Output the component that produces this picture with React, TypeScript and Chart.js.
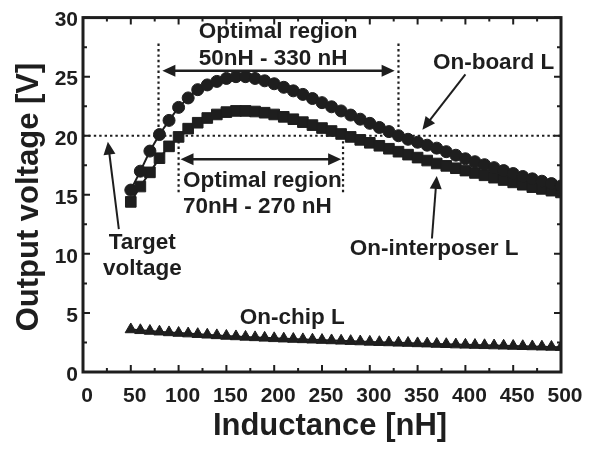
import { useEffect, useRef } from 'react';
import { Chart, registerables } from 'chart.js';

Chart.register(...registerables);

// Inductance sweep [nH]
const inductance = [
  50, 60, 70, 80, 90, 100, 110, 120, 130, 140, 150, 160, 170, 180, 190, 200,
  210, 220, 230, 240, 250, 260, 270, 280, 290, 300, 310, 320, 330, 340, 350,
  360, 370, 380, 390, 400, 410, 420, 430, 440, 450, 460, 470, 480, 490, 500,
];

// Output voltage [V] for each inductor implementation
const onBoard = [
  15.4, 17.0, 18.7, 20.1, 21.3, 22.4, 23.2, 23.9, 24.3, 24.6, 24.85, 25.0, 25.0,
  24.85, 24.65, 24.4, 24.1, 23.8, 23.5, 23.15, 22.8, 22.45, 22.1, 21.75, 21.4,
  21.05, 20.7, 20.35, 20.0, 19.7, 19.45, 19.2, 18.95, 18.65, 18.35, 18.05, 17.8,
  17.55, 17.3, 17.05, 16.8, 16.55, 16.35, 16.15, 15.95, 15.75,
];
const onInterposer = [
  14.4, 15.7, 16.9, 18.1, 19.1, 19.9, 20.6, 21.1, 21.5, 21.8, 22.0, 22.1, 22.1,
  22.05, 21.95, 21.8, 21.6, 21.4, 21.15, 20.9, 20.65, 20.4, 20.15, 19.9, 19.65,
  19.4, 19.15, 18.9, 18.65, 18.4, 18.15, 17.9, 17.65, 17.45, 17.25, 17.05, 16.85,
  16.65, 16.45, 16.25, 16.05, 15.85, 15.65, 15.5, 15.35, 15.2,
];
const onChip = [
  3.6, 3.53, 3.47, 3.41, 3.35, 3.3, 3.25, 3.2, 3.15, 3.1, 3.05, 3.01, 2.97, 2.93,
  2.89, 2.85, 2.82, 2.79, 2.76, 2.73, 2.7, 2.67, 2.64, 2.61, 2.58, 2.55, 2.52,
  2.5, 2.47, 2.45, 2.42, 2.4, 2.37, 2.35, 2.32, 2.3, 2.28, 2.26, 2.24, 2.22,
  2.2, 2.18, 2.16, 2.14, 2.12, 2.1,
];

// Axis tick labels
const xTicks = [0, 50, 100, 150, 200, 250, 300, 350, 400, 450, 500];
const yTicks = [0, 5, 10, 15, 20, 25, 30];

const targetVoltage = 20;
const INK = '#1e1e1e';
const FAMILY = '"Liberation Sans", Arial, Helvetica, sans-serif';

const toPoints = (ys: number[]) => inductance.map((x, i) => ({ x, y: ys[i] }));

function arrow(ctx: CanvasRenderingContext2D, x1: number, y1: number, x2: number, y2: number, both = false) {
  const head = (tx: number, ty: number, fx: number, fy: number) => {
    const a = Math.atan2(ty - fy, tx - fx);
    const len = 13;
    const hw = 6;
    ctx.beginPath();
    ctx.moveTo(tx, ty);
    ctx.lineTo(tx - len * Math.cos(a) + hw * Math.sin(a), ty - len * Math.sin(a) - hw * Math.cos(a));
    ctx.lineTo(tx - len * Math.cos(a) - hw * Math.sin(a), ty - len * Math.sin(a) + hw * Math.cos(a));
    ctx.closePath();
    ctx.fill();
  };
  const a = Math.atan2(y2 - y1, x2 - x1);
  const sx = both ? x1 + 10 * Math.cos(a) : x1;
  const sy = both ? y1 + 10 * Math.sin(a) : y1;
  ctx.beginPath();
  ctx.moveTo(sx, sy);
  ctx.lineTo(x2 - 10 * Math.cos(a), y2 - 10 * Math.sin(a));
  ctx.stroke();
  head(x2, y2, x1, y1);
  if (both) head(x1, y1, x2, y2);
}

const annotations = {
  id: 'annotations',
  beforeDatasetsDraw(chart: any) {
    const { ctx, chartArea: area, scales } = chart;
    const X = (v: number) => scales.x.getPixelForValue(v);
    const Y = (v: number) => scales.y.getPixelForValue(v);
    ctx.save();
    ctx.strokeStyle = INK;
    ctx.lineWidth = 2.2;
    ctx.setLineDash([2.4, 3]);
    // target voltage line
    ctx.beginPath();
    ctx.moveTo(area.left, Y(targetVoltage));
    ctx.lineTo(area.right, Y(targetVoltage));
    ctx.stroke();
    // on-board optimal region bounds
    for (const v of [79, 330]) {
      ctx.beginPath();
      ctx.moveTo(X(v), Y(27.8));
      ctx.lineTo(X(v), Y(targetVoltage));
      ctx.stroke();
    }
    // on-interposer optimal region bounds
    for (const v of [100, 272]) {
      ctx.beginPath();
      ctx.moveTo(X(v), Y(targetVoltage));
      ctx.lineTo(X(v), Y(15.0));
      ctx.stroke();
    }
    ctx.restore();
  },
  afterDatasetsDraw(chart: any) {
    const { ctx, chartArea: area, scales } = chart;
    const X = (v: number) => scales.x.getPixelForValue(v);
    const Y = (v: number) => scales.y.getPixelForValue(v);
    ctx.save();

    // frame
    ctx.strokeStyle = INK;
    ctx.lineWidth = 3;
    ctx.setLineDash([]);
    ctx.strokeRect(area.left, area.top, area.right - area.left, area.bottom - area.top);

    // inward ticks on all four sides
    ctx.lineWidth = 2;
    for (let v = 0; v <= 500; v += 25) {
      const px = X(v);
      const len = v % 50 === 0 ? 7 : 4;
      ctx.beginPath();
      ctx.moveTo(px, area.bottom);
      ctx.lineTo(px, area.bottom - len);
      ctx.moveTo(px, area.top);
      ctx.lineTo(px, area.top + len);
      ctx.stroke();
    }
    for (let v = 0; v <= 30; v += 2.5) {
      const py = Y(v);
      const len = v % 5 === 0 ? 7 : 4;
      ctx.beginPath();
      ctx.moveTo(area.left, py);
      ctx.lineTo(area.left + len, py);
      ctx.moveTo(area.right, py);
      ctx.lineTo(area.right - len, py);
      ctx.stroke();
    }

    // arrows
    ctx.fillStyle = INK;
    ctx.lineWidth = 2.5;
    arrow(ctx, X(83), Y(25.5), X(326), Y(25.5), true);
    arrow(ctx, X(102), Y(18.0), X(270), Y(18.0), true);
    ctx.lineWidth = 2;
    arrow(ctx, X(37.5), Y(12.1), X(26), Y(19.5));
    arrow(ctx, X(400), Y(25.2), X(355), Y(20.5));
    arrow(ctx, X(365), Y(11.3), X(370), Y(16.6));

    // labels
    ctx.fillStyle = INK;
    ctx.font = `bold 22.5px ${FAMILY}`;
    ctx.textBaseline = 'middle';
    ctx.textAlign = 'left';
    ctx.fillText('Optimal region', X(121), Y(28.8));
    ctx.fillText('50nH - 330 nH', X(121), Y(26.5));
    ctx.fillText('Optimal region', X(104.5), Y(16.2));
    ctx.fillText('70nH - 270 nH', X(104.5), Y(13.95));
    ctx.fillText('On-board L', X(366), Y(26.2));
    ctx.fillText('On-interposer L', X(279), Y(10.4));
    ctx.fillText('On-chip L', X(164), Y(4.6));
    ctx.textAlign = 'center';
    ctx.fillText('Target', X(62), Y(10.9));
    ctx.fillText('voltage', X(62), Y(8.7));

    // axis titles
    ctx.font = `bold 31px ${FAMILY}`;
    ctx.fillText('Inductance [nH]', 330, 426);
    ctx.translate(29, 197);
    ctx.rotate(-Math.PI / 2);
    ctx.fillText('Output voltage [V]', 0, 0);
    ctx.restore();
  },
};

export default function App() {
  const canvasRef = useRef<HTMLCanvasElement | null>(null);

  useEffect(() => {
    const canvas = canvasRef.current;
    if (!canvas) return;
    const tickFont = { family: FAMILY, size: 21, weight: 'bold' as const };
    const series = (label: string, ys: number[], pointStyle: string, radius: number) => ({
      label,
      data: toPoints(ys),
      showLine: true,
      borderColor: INK,
      borderWidth: 2,
      backgroundColor: INK,
      pointStyle,
      pointRadius: radius,
      pointBackgroundColor: INK,
      pointBorderColor: INK,
      pointBorderWidth: 1,
      tension: 0,
    });
    const chart = new Chart(canvas, {
      type: 'line',
      data: {
        datasets: [
          series('On-board L', onBoard, 'circle', 6),
          series('On-interposer L', onInterposer, 'rect', 7.5),
          series('On-chip L', onChip, 'triangle', 6.5),
        ] as any,
      },
      options: {
        responsive: false,
        animation: false,
        layout: { padding: { top: 13, right: 34, left: 0, bottom: 0 } },
        plugins: { legend: { display: false }, tooltip: { enabled: false } },
        scales: {
          x: {
            type: 'linear',
            min: 0,
            max: 500,
            grid: { display: false, drawTicks: false },
            border: { display: false },
            ticks: { font: tickFont, color: INK, padding: 12, labelOffset: 4, maxRotation: 0, autoSkip: false },
            afterBuildTicks: (s: any) => {
              s.ticks = xTicks.map((value) => ({ value }));
            },
            afterFit: (s: any) => {
              s.height = 78;
            },
          },
          y: {
            type: 'linear',
            min: 0,
            max: 30,
            grid: { display: false, drawTicks: false },
            border: { display: false },
            ticks: { font: tickFont, color: INK, padding: 5, labelOffset: 3, autoSkip: false },
            afterBuildTicks: (s: any) => {
              s.ticks = yTicks.map((value) => ({ value }));
            },
            afterFit: (s: any) => {
              s.width = 83;
            },
          },
        },
      },
      plugins: [annotations],
    });
    return () => chart.destroy();
  }, []);

  return (
    <div style={{ position: 'fixed', left: 0, top: 0, width: 595, height: 450, background: '#fff' }}>
      <canvas ref={canvasRef} width={595} height={450} />
    </div>
  );
}
